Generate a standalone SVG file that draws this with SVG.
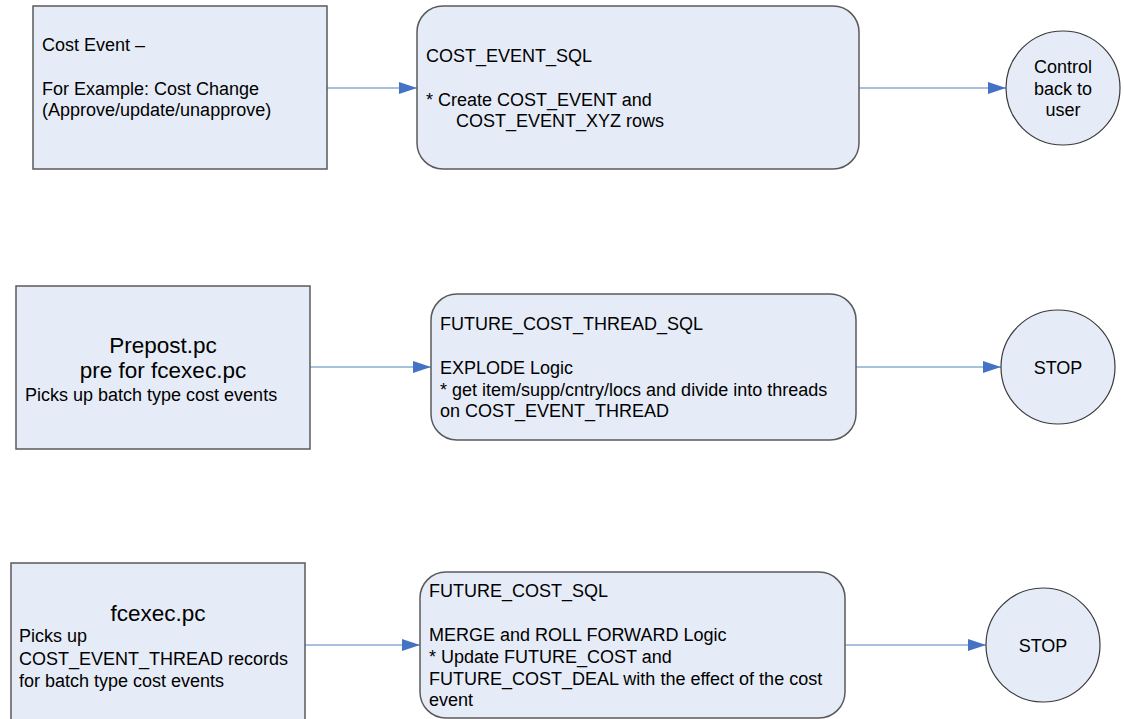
<svg xmlns="http://www.w3.org/2000/svg" width="1124" height="719" viewBox="0 0 1124 719">
<defs>
<marker id="arr" markerWidth="18" markerHeight="12" refX="18" refY="6" orient="auto" markerUnits="userSpaceOnUse">
<path d="M0,0 L18,6 L0,12 Z" fill="#4472C4"/>
</marker>
<style>
.box{fill:#E6ECF7;stroke:#5A5A5A;stroke-width:1.5}
.circ{fill:#E6ECF7;stroke:#3A3A3A;stroke-width:1.2}
.t{font-family:"Liberation Sans",Arial,sans-serif;font-size:18px;fill:#000}
.big{font-size:22.5px}
.c{text-anchor:middle}
.conn{stroke:#4F81BD;stroke-width:1.2;fill:none;marker-end:url(#arr)}
</style>
</defs>
<rect width="1124" height="719" fill="#fff"/>
<g id="connectors">
<line class="conn" x1="327" y1="88" x2="417" y2="88"/>
<line class="conn" x1="859" y1="88" x2="1006" y2="88"/>
<line class="conn" x1="310" y1="367" x2="431" y2="367"/>
<line class="conn" x1="856" y1="367" x2="1001" y2="367"/>
<line class="conn" x1="305" y1="645" x2="420" y2="645"/>
<line class="conn" x1="845" y1="645" x2="986" y2="645"/>
</g>
<g id="cost-event">
<rect class="box" x="33" y="6" width="294" height="163"/>
<text class="t" x="42" y="51">Cost Event –</text>
<text class="t" x="42" y="95">For Example: Cost Change</text>
<text class="t" x="42" y="116">(Approve/update/unapprove)</text>
</g>
<g id="cost-event-sql">
<rect class="box" x="417" y="6" width="442" height="163" rx="26"/>
<text class="t" x="426" y="62">COST_EVENT_SQL</text>
<text class="t" x="426" y="106">* Create COST_EVENT and</text>
<text class="t" x="456" y="127">COST_EVENT_XYZ rows</text>
</g>
<g id="control-back">
<circle class="circ" cx="1063" cy="88" r="57"/>
<text class="t c" x="1063" y="73">Control</text>
<text class="t c" x="1063" y="95">back to</text>
<text class="t c" x="1063" y="116">user</text>
</g>
<g id="prepost">
<rect class="box" x="16" y="286" width="294" height="163"/>
<text class="t big c" x="163" y="353">Prepost.pc</text>
<text class="t big c" x="163" y="378">pre for fcexec.pc</text>
<text class="t" x="25" y="401">Picks up batch type cost events</text>
</g>
<g id="future-cost-thread-sql">
<rect class="box" x="431" y="294" width="425" height="146" rx="26"/>
<text class="t" x="440" y="330">FUTURE_COST_THREAD_SQL</text>
<text class="t" x="440" y="374">EXPLODE Logic</text>
<text class="t" x="440" y="396">* get item/supp/cntry/locs and divide into threads</text>
<text class="t" x="440" y="417">on COST_EVENT_THREAD</text>
</g>
<g id="stop1">
<circle class="circ" cx="1058" cy="367" r="57"/>
<text class="t c" x="1058" y="374">STOP</text>
</g>
<g id="fcexec">
<rect class="box" x="11" y="563" width="294" height="170"/>
<text class="t big c" x="158" y="621">fcexec.pc</text>
<text class="t" x="19" y="642">Picks up</text>
<text class="t" x="19" y="665">COST_EVENT_THREAD records</text>
<text class="t" x="19" y="687">for batch type cost events</text>
</g>
<g id="future-cost-sql">
<rect class="box" x="420" y="572" width="425" height="146" rx="26"/>
<text class="t" x="429" y="597">FUTURE_COST_SQL</text>
<text class="t" x="429" y="641">MERGE and ROLL FORWARD Logic</text>
<text class="t" x="429" y="663">* Update FUTURE_COST and</text>
<text class="t" x="429" y="685">FUTURE_COST_DEAL with the effect of the cost</text>
<text class="t" x="429" y="706">event</text>
</g>
<g id="stop2">
<circle class="circ" cx="1043" cy="645" r="57"/>
<text class="t c" x="1043" y="652">STOP</text>
</g>
</svg>
